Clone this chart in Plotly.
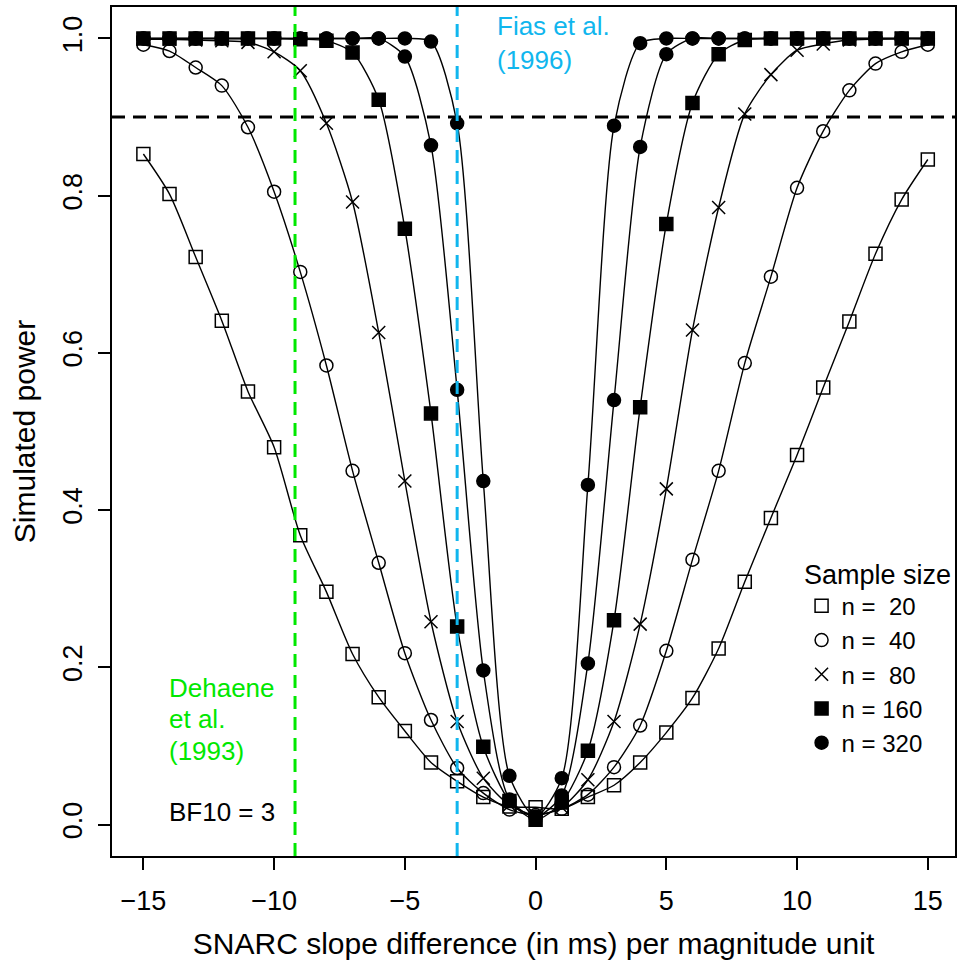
import plotly.graph_objects as go

# Slope difference (ms per magnitude unit) at which power was simulated
slope_diff = list(range(-15, 16))

# Simulated power per sample size
power_n20 = [0.853, 0.802, 0.722, 0.641, 0.551, 0.480, 0.368, 0.296, 0.217, 0.162,
             0.119, 0.079, 0.055, 0.035, 0.023, 0.022, 0.020, 0.035, 0.050, 0.079,
             0.117, 0.161, 0.224, 0.309, 0.390, 0.470, 0.556, 0.640, 0.726, 0.795, 0.846]
power_n40 = [0.992, 0.984, 0.963, 0.940, 0.887, 0.805, 0.703, 0.584, 0.450, 0.333,
             0.218, 0.133, 0.072, 0.040, 0.019, 0.012, 0.020, 0.038, 0.073, 0.126,
             0.221, 0.337, 0.450, 0.587, 0.697, 0.810, 0.882, 0.934, 0.968, 0.983, 0.992]
power_n80 = [0.999, 0.999, 0.998, 0.997, 0.995, 0.983, 0.959, 0.892, 0.792, 0.626,
             0.437, 0.258, 0.131, 0.059, 0.025, 0.012, 0.022, 0.057, 0.131, 0.255,
             0.427, 0.629, 0.785, 0.904, 0.954, 0.985, 0.993, 0.998, 0.999, 1.000, 1.000]
power_n160 = [1.000, 1.000, 1.000, 1.000, 1.000, 1.000, 0.999, 0.997, 0.982, 0.922,
              0.758, 0.523, 0.252, 0.099, 0.030, 0.006, 0.028, 0.094, 0.260, 0.531,
              0.764, 0.918, 0.980, 0.998, 1.000, 1.000, 1.000, 1.000, 1.000, 1.000, 1.000]
power_n320 = [1.000, 1.000, 1.000, 1.000, 1.000, 1.000, 1.000, 1.000, 1.000, 1.000,
              0.977, 0.864, 0.553, 0.196, 0.032, 0.010, 0.037, 0.205, 0.540, 0.862,
              0.980, 1.000, 1.000, 1.000, 1.000, 1.000, 1.000, 1.000, 1.000, 1.000, 1.000]
power_n640 = [1.000, 1.000, 1.000, 1.000, 1.000, 1.000, 1.000, 1.000, 1.000, 1.000,
              1.000, 0.996, 0.892, 0.437, 0.062, 0.010, 0.059, 0.432, 0.889, 0.994,
              1.000, 1.000, 1.000, 1.000, 1.000, 1.000, 1.000, 1.000, 1.000, 1.000, 1.000]

series_labels = ["n = \u00a020", "n = \u00a040", "n = \u00a080", "n = 160", "n = 320", "n = 640"]
series_values = [power_n20, power_n40, power_n80, power_n160, power_n320, power_n640]
series_symbols = ["square-open", "circle-open", "x-thin-open", "square", "circle", "circle"]
series_in_legend = [True, True, True, True, True, False]

# Reference effects from the literature and the power criterion
dehaene_slope = -9.2
fias_slope = -3.0
power_criterion = 0.9

FONT = "Liberation Sans, Arial, Helvetica, sans-serif"
GREEN = "#00E800"
BLUE = "#10B6EE"

fig = go.Figure()

# connecting curves
for vals in series_values:
    fig.add_trace(go.Scatter(
        x=slope_diff, y=vals, mode="lines",
        line=dict(color="black", width=1.4, shape="spline", smoothing=0.7),
        showlegend=False, hoverinfo="skip",
    ))

# point symbols
for label, vals, sym, show in zip(series_labels, series_values, series_symbols, series_in_legend):
    fig.add_trace(go.Scatter(
        x=slope_diff, y=vals, mode="markers", name=label, showlegend=show,
        marker=dict(symbol=sym, size=13, color="black",
                    line=dict(color="black", width=1.5)),
    ))

# power criterion and literature reference lines
fig.add_shape(type="line", xref="paper", yref="y", x0=0, x1=1,
              y0=power_criterion, y1=power_criterion, layer="above",
              line=dict(color="black", width=3, dash="13px,8px"))
fig.add_shape(type="line", xref="x", yref="paper", x0=dehaene_slope, x1=dehaene_slope,
              y0=0, y1=1, layer="above",
              line=dict(color=GREEN, width=3, dash="13px,8px"))
fig.add_shape(type="line", xref="x", yref="paper", x0=fias_slope, x1=fias_slope,
              y0=0, y1=1, layer="above",
              line=dict(color=BLUE, width=3, dash="13px,8px"))

def note(text, x, y, color):
    fig.add_annotation(text=text, x=x, y=y, xref="x", yref="y",
                       xanchor="left", yanchor="middle", showarrow=False,
                       font=dict(family=FONT, size=26, color=color))

note("Fias et al.", -1.55, 1.016, BLUE)
note("(1996)", -1.55, 0.972, BLUE)
note("Dehaene", -14.1, 0.174, GREEN)
note("et al.", -14.1, 0.134, GREEN)
note("(1993)", -14.1, 0.094, GREEN)
note("BF10 = 3", -14.1, 0.0165, "black")

fig.update_layout(
    width=961, height=966,
    margin=dict(l=112, r=4, t=7, b=110),
    paper_bgcolor="white", plot_bgcolor="white",
    font=dict(family=FONT, size=26, color="black"),
    showlegend=True,
    legend=dict(
        x=0.818, y=0.362, xanchor="left", yanchor="top",
        bgcolor="rgba(0,0,0,0)", borderwidth=0,
        font=dict(family=FONT, size=24, color="black"),
        title=dict(text="Sample size", side="top center",
                   font=dict(family=FONT, size=27, color="black")),
        itemwidth=30, tracegroupgap=0,
    ),
    xaxis=dict(
        range=[-16.2, 16.04], tickvals=[-15, -10, -5, 0, 5, 10, 15],
        ticks="outside", ticklen=12, tickwidth=1.5, tickcolor="black",
        ticklabelstandoff=8,
        showline=True, linecolor="black", linewidth=2, mirror=True,
        showgrid=False, zeroline=False,
        tickfont=dict(family=FONT, size=27),
        title=dict(text="SNARC slope difference (in ms) per magnitude unit",
                   font=dict(family=FONT, size=30), standoff=18),
    ),
    yaxis=dict(
        range=[-0.04, 1.04], tickvals=[0, 0.2, 0.4, 0.6, 0.8, 1.0],
        ticktext=["0.0", "0.2", "0.4", "0.6", "0.8", "1.0"],
        ticks="outside", ticklen=12, tickwidth=1.5, tickcolor="black",
        tickangle=-90, ticklabelstandoff=5,
        showline=True, linecolor="black", linewidth=2, mirror=True,
        showgrid=False, zeroline=False,
        tickfont=dict(family=FONT, size=27),
        title=dict(text="Simulated power", font=dict(family=FONT, size=30), standoff=14),
    ),
)

fig.write_html("out.html")
